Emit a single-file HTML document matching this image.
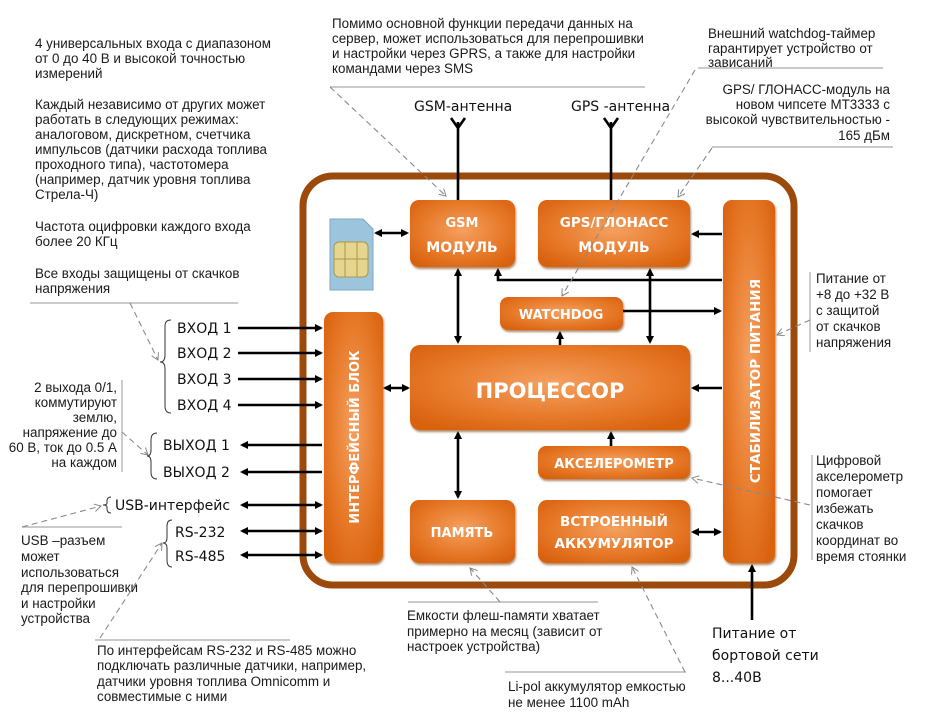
<!DOCTYPE html>
<html><head><meta charset="utf-8"><style>
html,body{margin:0;padding:0;background:#fff}
svg{display:block}
.a{font-family:"Liberation Sans",sans-serif;font-size:13.4px;fill:#1a1a1a}
.l{font-family:"DejaVu Sans","Liberation Sans",sans-serif;font-size:14px;fill:#111}
.b{font-family:"DejaVu Sans","Liberation Sans",sans-serif;font-weight:bold;fill:#fff;text-anchor:middle}
.d{stroke:#8a8a8a;stroke-width:1.1;stroke-dasharray:6,4;fill:none}
.u{stroke:#aaa;stroke-width:1.2;fill:none}
.k{stroke:#000;stroke-width:2.6;fill:none}
</style></head><body>
<svg width="925" height="721" viewBox="0 0 925 721" xmlns="http://www.w3.org/2000/svg">
<defs>
<radialGradient id="g" cx="50%" cy="45%" r="65%">
<stop offset="0" stop-color="#f5a060"/><stop offset="0.6" stop-color="#e77a2a"/><stop offset="1" stop-color="#d9620f"/></radialGradient>
<marker id="m" markerWidth="8" markerHeight="8" refX="6" refY="4" orient="auto" markerUnits="userSpaceOnUse"><path d="M0,0 L8,4 L0,8 z" fill="#000"/></marker>
<marker id="ms" markerWidth="8" markerHeight="8" refX="2" refY="4" orient="auto" markerUnits="userSpaceOnUse"><path d="M8,0 L0,4 L8,8 z" fill="#000"/></marker>
<marker id="o" markerWidth="8" markerHeight="8" refX="7" refY="4" orient="auto" markerUnits="userSpaceOnUse"><path d="M0,0 L7,4 L0,8" fill="none" stroke="#888" stroke-width="1"/></marker>
<filter id="sh"><feDropShadow dx="1" dy="2" stdDeviation="1" flood-color="#7a3a00" flood-opacity="0.6"/></filter>
</defs>

<rect x="303" y="176" width="491" height="409" rx="30" fill="none" stroke="#9b4a0c" stroke-width="7"/>

<path class="k" d="M458,122 V200 M451,118 L458,128 L465,118" stroke-width="3"/>
<path class="k" d="M611,122 V200 M604,118 L611,128 L618,118" stroke-width="3"/>
<text class="l" x="414" y="111" font-size="15">GSM-антенна</text>
<text class="l" x="571" y="111" font-size="15">GPS -антенна</text>

<g filter="url(#sh)" fill="url(#g)">
<rect x="410" y="200" width="105" height="67" rx="9"/>
<rect x="538" y="200" width="152" height="67" rx="9"/>
<rect x="723" y="200" width="52" height="363" rx="9"/>
<rect x="324" y="312" width="59" height="251" rx="9"/>
<rect x="500" y="297" width="123" height="33" rx="8"/>
<rect x="410" y="345" width="280" height="85" rx="10"/>
<rect x="538" y="446" width="152" height="33" rx="8"/>
<rect x="410" y="500" width="105" height="63" rx="9"/>
<rect x="538" y="500" width="152" height="63" rx="9"/>
</g>
<text class="b" x="462" y="227" font-size="13">GSM</text>
<text class="b" x="462" y="252" font-size="14">МОДУЛЬ</text>
<text class="b" x="614" y="227" font-size="13.5">GPS/ГЛОНАСС</text>
<text class="b" x="614" y="252" font-size="14">МОДУЛЬ</text>
<text class="b" x="561" y="319" font-size="13">WATCHDOG</text>
<text class="b" x="550" y="398" font-size="21">ПРОЦЕССОР</text>
<text class="b" x="614" y="468" font-size="13">АКСЕЛЕРОМЕТР</text>
<text class="b" x="462" y="537" font-size="13">ПАМЯТЬ</text>
<text class="b" x="614" y="526" font-size="13.5">ВСТРОЕННЫЙ</text>
<text class="b" x="614" y="548" font-size="13.5">АККУМУЛЯТОР</text>
<text class="b" font-size="13.5" transform="translate(760,381) rotate(-90)">СТАБИЛИЗАТОР ПИТАНИЯ</text>
<text class="b" font-size="13" transform="translate(359,437) rotate(-90)">ИНТЕРФЕЙСНЫЙ БЛОК</text>

<path d="M330,219 H363 L373,229 V290 H330 Z" fill="#9cc4dc" stroke="#7fa9c4"/>
<rect x="334" y="242" width="34" height="35" rx="5" fill="#e6d58e" stroke="#a89848"/>
<path d="M334,259 H368 M345,242 V277 M357,242 V277" stroke="#a89848" fill="none"/>

<line class="k" x1="376" y1="233" x2="407" y2="233" marker-start="url(#ms)" marker-end="url(#m)"/>
<line class="k" x1="722" y1="234" x2="693" y2="234" marker-end="url(#m)"/>
<path class="k" d="M722,280 H498 V270" marker-end="url(#m)"/>
<line class="k" x1="458" y1="270" x2="458" y2="342" marker-start="url(#ms)" marker-end="url(#m)"/>
<line class="k" x1="650" y1="270" x2="650" y2="342" marker-start="url(#ms)" marker-end="url(#m)"/>
<line class="k" x1="623" y1="311" x2="720" y2="311" marker-end="url(#m)"/>
<line class="k" x1="560" y1="345" x2="560" y2="333" marker-end="url(#m)"/>
<line class="k" x1="385" y1="388" x2="408" y2="388" marker-start="url(#ms)" marker-end="url(#m)"/>
<line class="k" x1="722" y1="388" x2="693" y2="388" marker-end="url(#m)"/>
<line class="k" x1="611" y1="446" x2="611" y2="433" marker-end="url(#m)"/>
<line class="k" x1="458" y1="433" x2="458" y2="497" marker-start="url(#ms)" marker-end="url(#m)"/>
<line class="k" x1="693" y1="532" x2="720" y2="532" marker-start="url(#ms)" marker-end="url(#m)"/>
<line class="k" x1="752" y1="620" x2="752" y2="566" marker-end="url(#m)"/>

<g>
<line class="k" x1="238" y1="328" x2="321" y2="328" marker-end="url(#m)"/>
<line class="k" x1="238" y1="353" x2="321" y2="353" marker-end="url(#m)"/>
<line class="k" x1="238" y1="379" x2="321" y2="379" marker-end="url(#m)"/>
<line class="k" x1="238" y1="405" x2="321" y2="405" marker-end="url(#m)"/>
<line class="k" x1="322" y1="445" x2="242" y2="445" marker-end="url(#m)"/>
<line class="k" x1="322" y1="472" x2="242" y2="472" marker-end="url(#m)"/>
<line class="k" x1="242" y1="505" x2="321" y2="505" marker-start="url(#ms)" marker-end="url(#m)"/>
<line class="k" x1="242" y1="531" x2="321" y2="531" marker-start="url(#ms)" marker-end="url(#m)"/>
<line class="k" x1="242" y1="555" x2="321" y2="555" marker-start="url(#ms)" marker-end="url(#m)"/>
</g>
<text class="l" x="177" y="333">ВХОД 1</text>
<text class="l" x="177" y="358">ВХОД 2</text>
<text class="l" x="177" y="384">ВХОД 3</text>
<text class="l" x="177" y="410">ВХОД 4</text>
<text class="l" x="163" y="450">ВЫХОД 1</text>
<text class="l" x="163" y="477">ВЫХОД 2</text>
<text class="l" x="115" y="510" font-size="13">USB-интерфейс</text>
<text class="l" x="175" y="537">RS-232</text>
<text class="l" x="175" y="561">RS-485</text>
<g fill="none" stroke="#333" stroke-width="1">
<path d="M171,320 Q165,320 165,326 V355 Q165,362 160,362 Q165,362 165,369 V406 Q165,413 171,413"/>
<path d="M157,433 Q151,433 151,440 V450 Q151,456 147,456 Q151,456 151,462 V472 Q151,479 157,479"/>
<path d="M111,497 Q107,497 107,501 V503 Q107,505 103,505 Q107,505 107,507 V509 Q107,513 111,513"/>
<path d="M172,520 Q167,520 167,526 V538 Q167,543 163,543 Q167,543 167,548 V560 Q167,567 172,567"/>
</g>

<g class="a">
<text x="35" y="48">4 универсальных входа с диапазоном</text>
<text x="35" y="63">от 0 до 40 В и высокой точностью</text>
<text x="35" y="78">измерений</text>
<text x="35" y="109">Каждый независимо от других может</text>
<text x="35" y="124">работать в следующих режимах:</text>
<text x="35" y="139">аналоговом, дискретном, счетчика</text>
<text x="35" y="154">импульсов (датчики расхода топлива</text>
<text x="35" y="169">проходного типа), частотомера</text>
<text x="35" y="184">(например, датчик уровня топлива</text>
<text x="35" y="199">Стрела-Ч)</text>
<text x="35" y="231">Частота оцифровки каждого входа</text>
<text x="35" y="246">более 20 КГц</text>
<text x="35" y="278">Все входы защищены от скачков</text>
<text x="35" y="293">напряжения</text>
<g text-anchor="end">
<text x="117" y="392">2 выхода 0/1,</text>
<text x="117" y="407">коммутируют</text>
<text x="117" y="422">землю,</text>
<text x="117" y="437">напряжение до</text>
<text x="117" y="452">60 В, ток до 0.5 А</text>
<text x="117" y="467">на каждом</text>
<text x="890" y="94">GPS/ ГЛОНАСС-модуль на</text>
<text x="890" y="109">новом чипсете МТ3333 с</text>
<text x="890" y="124">высокой чувствительностью -</text>
<text x="890" y="140">165 дБм</text>
</g>
<text x="21" y="545">USB –разъем</text>
<text x="21" y="561">может</text>
<text x="21" y="577">использоваться</text>
<text x="21" y="592">для перепрошивки</text>
<text x="21" y="608">и настройки</text>
<text x="21" y="623">устройства</text>
<text x="97" y="655">По интерфейсам RS-232 и RS-485 можно</text>
<text x="97" y="670">подключать различные датчики, например,</text>
<text x="97" y="686">датчики уровня топлива Omnicomm и</text>
<text x="97" y="701">совместимые с ними</text>
<text x="332" y="28">Помимо основной функции передачи данных на</text>
<text x="332" y="43">сервер, может использоваться для перепрошивки</text>
<text x="332" y="58">и настройки через GPRS, а также для настройки</text>
<text x="332" y="73">командами через SMS</text>
<text x="708" y="38">Внешний watchdog-таймер</text>
<text x="708" y="53">гарантирует устройство от</text>
<text x="708" y="67">зависаний</text>
<text x="816" y="283">Питание от</text>
<text x="816" y="299">+8 до +32 В</text>
<text x="816" y="315">с защитой</text>
<text x="816" y="331">от скачков</text>
<text x="816" y="347">напряжения</text>
<text x="816" y="465">Цифровой</text>
<text x="816" y="481">акселерометр</text>
<text x="816" y="497">помогает</text>
<text x="816" y="513">избежать</text>
<text x="816" y="529">скачков</text>
<text x="816" y="545">координат во</text>
<text x="816" y="561">время стоянки</text>
<text x="407" y="620">Емкости флеш-памяти хватает</text>
<text x="407" y="636">примерно на месяц  (зависит от</text>
<text x="407" y="651">настроек устройства)</text>
<text x="508" y="691">Li-pol аккумулятор емкостью</text>
<text x="508" y="707">не менее 1100 mAh</text>
</g>
<text class="l" x="712" y="638" font-size="15">Питание от</text>
<text class="l" x="712" y="660" font-size="15">бортовой сети</text>
<text class="l" x="712" y="682" font-size="15">8...40В</text>

<g class="u">
<line x1="30" y1="303" x2="238" y2="303"/>
<line x1="122" y1="380" x2="122" y2="472"/>
<line x1="22" y1="527" x2="122" y2="527"/>
<line x1="95" y1="640" x2="290" y2="640"/>
<line x1="330" y1="87" x2="645" y2="87"/>
<line x1="698" y1="68" x2="883" y2="68"/>
<line x1="712" y1="147" x2="893" y2="147"/>
<line x1="810" y1="272" x2="810" y2="352"/>
<line x1="812" y1="455" x2="812" y2="560"/>
<line x1="408" y1="602" x2="598" y2="602"/>
<line x1="505" y1="672" x2="686" y2="672"/>
</g>
<g class="d">
<line x1="130" y1="303" x2="158" y2="360" marker-end="url(#o)"/>
<line x1="122" y1="432" x2="148" y2="455" marker-end="url(#o)"/>
<line x1="22" y1="527" x2="101" y2="506" marker-end="url(#o)"/>
<line x1="100" y1="638" x2="162" y2="543" marker-end="url(#o)"/>
<line x1="330" y1="87" x2="446" y2="196" marker-end="url(#o)"/>
<line x1="695" y1="70" x2="562" y2="296" marker-end="url(#o)"/>
<line x1="712" y1="148" x2="678" y2="197" marker-end="url(#o)"/>
<line x1="810" y1="320" x2="777" y2="335" marker-end="url(#o)"/>
<line x1="810" y1="505" x2="692" y2="478" marker-end="url(#o)"/>
<line x1="500" y1="602" x2="470" y2="568" marker-end="url(#o)"/>
<line x1="685" y1="672" x2="632" y2="567" marker-end="url(#o)"/>
</g>
</svg>
</body></html>
